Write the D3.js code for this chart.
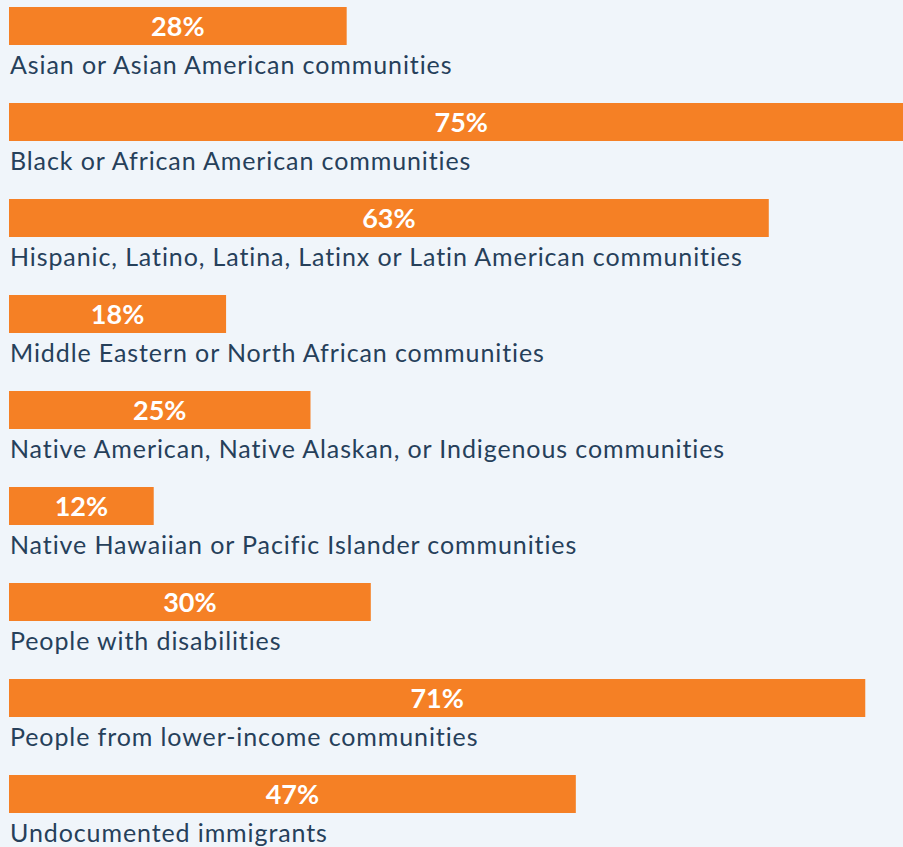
<!DOCTYPE html>
<html>
<head>
<meta charset="utf-8">
<script src="https://cdn.jsdelivr.net/npm/d3@7"></script>
<style>
  html, body { margin: 0; padding: 0; background: #f0f5fa; }
  svg { display: block; }
</style>
</head>
<body>
<div id="chart"></div>
<script>
var categories = [
    "Asian or Asian American communities",
    "Black or African American communities",
    "Hispanic, Latino, Latina, Latinx or Latin American communities",
    "Middle Eastern or North African communities",
    "Native American, Native Alaskan, or Indigenous communities",
    "Native Hawaiian or Pacific Islander communities",
    "People with disabilities",
    "People from lower-income communities",
    "Undocumented immigrants"
];
var percents = [28, 75, 63, 18, 25, 12, 30, 71, 47];

var width = 903, height = 847;
var barHeight = 38;

var svg = d3.select("#chart")
    .append("svg")
    .attr("width", width)
    .attr("height", height);

svg.append("rect")
    .attr("width", width)
    .attr("height", height)
    .attr("fill", "#f0f5fa");

// 100% would sit well past the right edge, the 75% bar gets clipped
var x = d3.scaleLinear()
    .domain([0, 100])
    .range([9, 1215]);

var y = d3.scaleBand()
    .domain(categories)
    .range([7, 7 + 96 * categories.length]);

var rows = svg.selectAll(".row")
    .data(categories)
    .enter()
    .append("g")
    .attr("class", "row")
    .attr("transform", function(d) { return "translate(0," + y(d) + ")"; });

rows.append("rect")
    .attr("x", x(0))
    .attr("y", 0)
    .attr("width", function(d, i) { return x(percents[i]) - x(0); })
    .attr("height", barHeight)
    .attr("fill", "#f58025");

rows.append("text")
    .attr("x", function(d, i) { return (x(0) + x(percents[i])) / 2; })
    .attr("y", 29)
    .attr("text-anchor", "middle")
    .attr("fill", "#ffffff")
    .attr("font-family", "Lato, 'Open Sans', sans-serif")
    .attr("font-weight", "bold")
    .attr("font-size", "27px")
    .text(function(d, i) { return percents[i] + "%"; });

rows.append("text")
    .attr("x", 10)
    .attr("y", 67)
    .attr("fill", "#26405a")
    .attr("font-family", "Lato, 'Open Sans', sans-serif")
    .attr("font-size", "25px")
    .attr("letter-spacing", "0.9px")
    .text(function(d) { return d; });
</script>
</body>
</html>
